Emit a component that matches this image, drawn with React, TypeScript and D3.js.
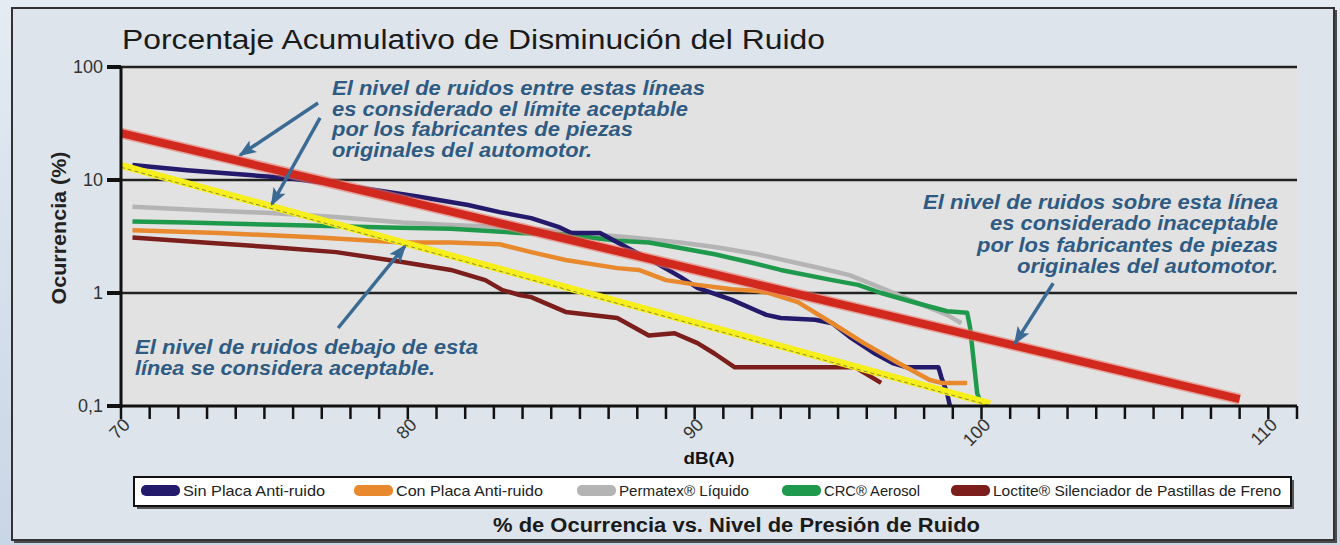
import React from "react";
import * as d3 from "d3";

// chart size
const W = 1340;
const H = 545;

// [dB(A), % de ocurrencia]
const sinPlaca = [
  [70.4, 13.6], [72.3, 12.2], [74.0, 11.3], [75.8, 10.4], [78.1, 8.7], [80.4, 7.1],
  [82.1, 6.0], [83.2, 5.2], [84.3, 4.6], [85.3, 3.8], [85.7, 3.4], [86.7, 3.4],
  [87.8, 2.4], [88.6, 1.88], [89.5, 1.39], [90.1, 1.11], [91.3, 0.87], [92.5, 0.64],
  [93.0, 0.6], [94.2, 0.58], [94.8, 0.54], [95.4, 0.41], [96.3, 0.29], [96.9, 0.24],
  [97.4, 0.22], [98.5, 0.22], [98.6, 0.18], [98.8, 0.13], [98.9, 0.1],
];
const conPlaca = [
  [70.4, 3.6], [73.4, 3.4], [76.9, 3.1], [79.8, 2.8], [81.5, 2.8], [83.2, 2.7],
  [84.3, 2.3], [85.5, 1.96], [87.3, 1.66], [88.05, 1.6], [89.0, 1.3], [90.1, 1.18],
  [91.3, 1.08], [92.2, 1.04], [92.6, 1.0], [93.6, 0.83], [94.8, 0.54], [95.9, 0.36],
  [97.1, 0.24], [98.2, 0.17], [98.6, 0.16], [99.5, 0.16],
];
const permatex = [
  [70.4, 5.8], [72.9, 5.4], [75.2, 5.1], [77.5, 4.7], [79.8, 4.2], [81.5, 4.0],
  [83.9, 3.8], [85.5, 3.45], [87.8, 3.1], [89.5, 2.8], [90.7, 2.55], [92.2, 2.2],
  [94.2, 1.7], [95.4, 1.44], [96.5, 1.11], [97.7, 0.83], [98.8, 0.64], [99.3, 0.54],
];
const crc = [
  [70.4, 4.3], [72.3, 4.2], [75.8, 4.0], [79.3, 3.8], [81.5, 3.7], [83.9, 3.4],
  [85.5, 3.3], [87.3, 2.9], [88.4, 2.8], [89.5, 2.5], [90.7, 2.2], [92.0, 1.85],
  [93.0, 1.6], [94.8, 1.3], [95.7, 1.18], [96.5, 1.0], [97.7, 0.82], [98.8, 0.69],
  [99.5, 0.67], [99.6, 0.5], [99.85, 0.13], [99.95, 0.11],
];
const loctite = [
  [70.4, 3.1], [72.9, 2.8], [75.2, 2.55], [77.5, 2.3], [79.8, 1.88], [81.5, 1.6],
  [82.7, 1.3], [83.3, 1.06], [83.9, 0.96], [84.3, 0.92], [85.5, 0.68], [87.3, 0.6],
  [88.4, 0.42], [89.3, 0.44], [90.1, 0.36], [90.7, 0.29], [91.4, 0.22], [95.6, 0.22],
  [96.5, 0.16],
];

// reference limits
const limiteInaceptable = [[70, 26], [109, 0.115]];
const limiteAceptable = [[70, 13.5], [100.3, 0.105]];

const seriesNames = [
  "Sin Placa Anti-ruido",
  "Con Placa Anti-ruido",
  "Permatex® Líquido",
  "CRC® Aerosol",
  "Loctite® Silenciador de Pastillas de Freno",
];
const seriesColors = ["#241a6c", "#e8892e", "#b4b4b4", "#1f9a4d", "#7b1e1c"];
const seriesData = [sinPlaca, conPlaca, permatex, crc, loctite];
// drawing order (bottom first)
const drawOrder = [2, 3, 0, 1, 4];

const yTickValues = [100, 10, 1, 0.1];
const yTickLabels = ["100", "10", "1", "0,1"];
const xLabelValues = [70, 80, 90, 100, 110];
const xMinorTicks = d3.range(70, 112);

// arrows: [from dB, from %, to dB, to %]
const arrows = [
  [76.87, 48, 74.15, 16.6],
  [76.94, 35.4, 75.26, 6.1],
  [77.57, 0.49, 79.9, 2.6],
  [102.5, 1.22, 101.17, 0.36],
];

const noteTop = [
  "El nivel de ruidos entre estas líneas",
  "es considerado el límite aceptable",
  "por los fabricantes de piezas",
  "originales del automotor.",
];
const noteTopWidths = [373, 356, 301, 260];
const noteRight = [
  "El nivel de ruidos sobre esta línea",
  "es considerado inaceptable",
  "por los fabricantes de piezas",
  "originales del automotor.",
];
const noteRightWidths = [355, 288, 301, 261];
const noteBottom = ["El nivel de ruidos debajo de esta", "línea se considera aceptable."];
const noteBottomWidths = [343, 300];

const legendX = [141, 354, 577, 782, 951];
const legendTextW = [142, 147, 130, 96, 288];

const font = "'Liberation Sans', Arial, Helvetica, sans-serif";
const noteColor = "#2f5b82";
const arrowColor = "#3b6b94";

const x = d3.scaleLinear().domain([70, 111]).range([121, 1297]);
const y = d3.scaleLog().domain([0.1, 100]).range([406, 67]);
const line = d3
  .line<number[]>()
  .x((d) => x(d[0]))
  .y((d) => y(d[1]));

function Legend() {
  return (
    <g>
      <rect x={137} y={480} width={1157} height={29} fill="#555" />
      <rect x={134} y={477} width={1157} height={29} fill="#fff" stroke="#111" strokeWidth={2} />
      {seriesNames.map((name, i) => (
        <g key={name}>
          <rect x={legendX[i]} y={485} width={39} height={11} rx={5} fill={seriesColors[i]} />
          <text
            x={legendX[i] + 42}
            y={496}
            fontSize={15}
            fontFamily={font}
            fill="#222"
            textLength={legendTextW[i]}
            lengthAdjust="spacingAndGlyphs"
          >
            {name}
          </text>
        </g>
      ))}
    </g>
  );
}

export default function App() {
  return (
    <svg width={W} height={H} style={{ position: "absolute", left: 0, top: 0 }}>
      <defs>
        <linearGradient id="bgGrad" x1="0" y1="0" x2="0" y2="1">
          <stop offset="0" stopColor="#e4ebf3" />
          <stop offset="1" stopColor="#c8d6e5" />
        </linearGradient>
        <marker
          id="arrowHead"
          markerUnits="userSpaceOnUse"
          markerWidth={18}
          markerHeight={14}
          refX={16}
          refY={7}
          orient="auto"
        >
          <path d="M0,0 L18,7 L0,14 L4,7 z" fill={arrowColor} />
        </marker>
      </defs>

      {/* background and frame */}
      <rect x={0} y={0} width={W} height={H} fill="url(#bgGrad)" />
      <rect x={14} y={10} width={1323} height={533} fill="#4a4a4a" />
      <rect x={12} y={8} width={1322} height={532} fill="#dde4eb" stroke="#333" strokeWidth={2} />

      {/* plot area */}
      <rect x={x(70)} y={y(100)} width={x(111) - x(70)} height={y(0.1) - y(100)} fill="#e2e2e2" />

      {/* gridlines */}
      {yTickValues.slice(0, 3).map((v) => (
        <line key={v} x1={x(70)} x2={x(111)} y1={y(v)} y2={y(v)} stroke="#222" strokeWidth={2.5} />
      ))}

      {/* series */}
      {drawOrder.map((i) => (
        <path
          key={seriesNames[i]}
          d={line(seriesData[i]) || ""}
          fill="none"
          stroke={seriesColors[i]}
          strokeWidth={4.5}
          strokeLinejoin="round"
        />
      ))}

      {/* acceptable limit (yellow) */}
      <path d={line(limiteAceptable) || ""} fill="none" stroke="#f6ef1c" strokeWidth={7} />
      <path
        d={line(limiteAceptable) || ""}
        fill="none"
        stroke="#8c8a3a"
        strokeWidth={1}
        strokeDasharray="4,3"
        transform="translate(0,2)"
      />

      {/* unacceptable limit (red) */}
      <path d={line(limiteInaceptable) || ""} fill="none" stroke="#e87a6e" strokeWidth={11} opacity={0.6} />
      <path d={line(limiteInaceptable) || ""} fill="none" stroke="#d2291f" strokeWidth={8} />

      {/* x axis */}
      <line x1={x(70) - 14} x2={x(111)} y1={y(0.1)} y2={y(0.1)} stroke="#111" strokeWidth={3} />
      {xMinorTicks.map((t) => (
        <line key={t} x1={x(t)} x2={x(t)} y1={y(0.1)} y2={y(0.1) + 13} stroke="#111" strokeWidth={2.5} />
      ))}
      {xLabelValues.map((t) => (
        <text
          key={t}
          transform={`translate(${x(t) + 10},${y(0.1) + 20}) rotate(-45)`}
          textAnchor="end"
          fontSize={18}
          fontFamily={font}
          fill="#333"
        >
          {t}
        </text>
      ))}
      <text
        x={709}
        y={464}
        textAnchor="middle"
        fontSize={17}
        fontWeight="bold"
        fontFamily={font}
        fill="#111"
        textLength={51}
        lengthAdjust="spacingAndGlyphs"
      >
        dB(A)
      </text>

      {/* y axis */}
      <line x1={x(70)} x2={x(70)} y1={y(100) - 1} y2={y(0.1) + 2} stroke="#111" strokeWidth={3} />
      {yTickValues.map((v, i) => (
        <g key={v}>
          <line x1={x(70) - 14} x2={x(70)} y1={y(v)} y2={y(v)} stroke="#111" strokeWidth={4} />
          <text
            x={x(70) - 18}
            y={y(v) + 6}
            textAnchor="end"
            fontSize={18}
            fontFamily={font}
            fill="#333"
          >
            {yTickLabels[i]}
          </text>
        </g>
      ))}
      <text
        transform="translate(66,228) rotate(-90)"
        textAnchor="middle"
        fontSize={20}
        fontWeight="bold"
        fontFamily={font}
        fill="#222"
        textLength={153}
        lengthAdjust="spacingAndGlyphs"
      >
        Ocurrencia (%)
      </text>

      {/* titles */}
      <text
        x={122}
        y={49}
        fontSize={27}
        fontFamily={font}
        fill="#1a1a1a"
        textLength={703}
        lengthAdjust="spacingAndGlyphs"
      >
        Porcentaje Acumulativo de Disminución del Ruido
      </text>
      <text
        x={493}
        y={532}
        fontSize={20}
        fontWeight="bold"
        fontFamily={font}
        fill="#1a1a1a"
        textLength={487}
        lengthAdjust="spacingAndGlyphs"
      >
        % de Ocurrencia vs. Nivel de Presión de Ruido
      </text>

      {/* annotations */}
      {noteTop.map((t, i) => (
        <text
          key={"t" + i}
          x={332}
          y={95 + i * 20.5}
          fontSize={20}
          fontStyle="italic"
          fontWeight="bold"
          fontFamily={font}
          fill={noteColor}
          textLength={noteTopWidths[i]}
          lengthAdjust="spacingAndGlyphs"
        >
          {t}
        </text>
      ))}
      {noteRight.map((t, i) => (
        <text
          key={"r" + i}
          x={1278 - noteRightWidths[i]}
          y={209 + i * 21.3}
          fontSize={20}
          fontStyle="italic"
          fontWeight="bold"
          fontFamily={font}
          fill={noteColor}
          textLength={noteRightWidths[i]}
          lengthAdjust="spacingAndGlyphs"
        >
          {t}
        </text>
      ))}
      {noteBottom.map((t, i) => (
        <text
          key={"b" + i}
          x={135}
          y={354 + i * 20.5}
          fontSize={20}
          fontStyle="italic"
          fontWeight="bold"
          fontFamily={font}
          fill={noteColor}
          textLength={noteBottomWidths[i]}
          lengthAdjust="spacingAndGlyphs"
        >
          {t}
        </text>
      ))}

      {/* arrows */}
      {arrows.map((a, i) => (
        <line
          key={"a" + i}
          x1={x(a[0])}
          y1={y(a[1])}
          x2={x(a[2])}
          y2={y(a[3])}
          stroke={arrowColor}
          strokeWidth={3.5}
          markerEnd="url(#arrowHead)"
        />
      ))}

      <Legend />
    </svg>
  );
}
